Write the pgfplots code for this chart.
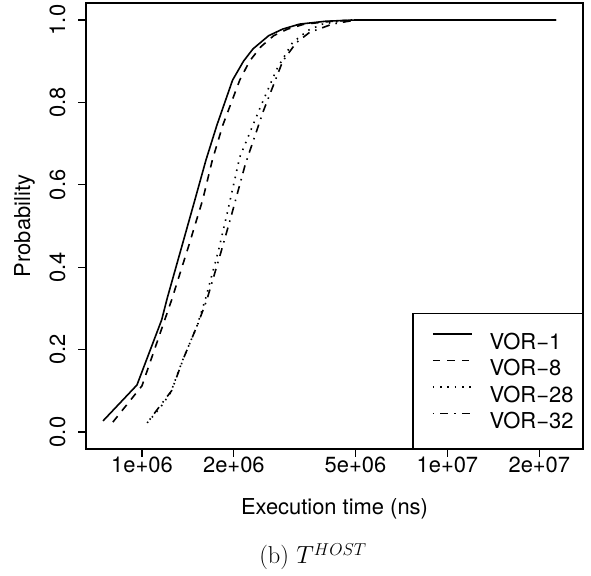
\documentclass[border=0pt]{standalone}
\usepackage{fontspec}
\usepackage{pgfplots}
\pgfplotsset{compat=1.18}
\newfontfamily\hv{TeX Gyre Heros}
\newcommand\rf{\hv\fontsize{22}{26}\selectfont}
\begin{document}
\begin{tikzpicture}[x=1bp,y=1bp]
\useasboundingbox (0,0) rectangle (591,576);
\begin{axis}[
  at={(86bp,127bp)}, anchor=south west,
  scale only axis, width=497bp, height=446bp,
  xmode=log, xmin=6.56e5, xmax=2.78e7, ymin=-0.0413, ymax=1.0413,
  xtick={1e6,2e6,5e6,1e7,2e7}, xticklabels={1e+06,2e+06,5e+06,1e+07,2e+07},
  minor xtick={},
  ytick={0,0.2,0.4,0.6,0.8,1}, yticklabels={0.0,0.2,0.4,0.6,0.8,1.0},
  tick align=outside, major tick length=8bp,
  xtick pos=bottom, ytick pos=left,
  tick style={black, line width=1.1bp},
  axis line style={line width=1.2bp},
  font=\rf,
  xticklabel style={anchor=north, inner sep=0pt},
  yticklabel style={xshift=-13bp, rotate=90, anchor=base, inner sep=0pt},
  xlabel={Execution time (ns)},
  xlabel style={at={([yshift=-66bp]axis description cs:0.5,0)}, anchor=base, inner sep=0pt},
  ylabel={Probability},
  ylabel style={at={([xshift=-56bp]axis description cs:0,0.5)}, rotate=0, anchor=base, inner sep=0pt},
  legend style={at={(1,0)}, anchor=south east, draw=black, line width=1.2bp,
    inner xsep=9bp, inner ysep=19.5bp, row sep=10.5bp, column sep=17bp,
    nodes={inner sep=0pt, text height=15.5bp, text depth=0bp, font=\rf}},
  legend cell align=left,
  legend image code/.code={\path (0bp,0bp); \draw[#1] (10bp,7.5bp) -- (49bp,7.5bp);},
  every axis plot/.append style={black, line width=1.6bp, no marks},
]
\addplot[solid] coordinates {
(7.46e5,0.027) (9.63e5,0.114) (1.16e6,0.272) (1.21e6,0.325) (1.35e6,0.45)
(1.49e6,0.563) (1.62e6,0.66) (1.76e6,0.745) (1.98e6,0.854) (2.15e6,0.9) (2.31e6,0.93)
(2.6e6,0.962) (2.89e6,0.978) (3.28e6,0.99) (4e6,0.997) (5e6,1.0) (2.27e7,1.0)};
\addlegendentry{VOR−1}
\addplot[dash pattern=on 7.5bp off 7bp] coordinates {
(8.03e5,0.024) (1.0e6,0.112) (1.25e6,0.32) (1.42e6,0.45) (1.58e6,0.563)
(1.7e6,0.66) (1.84e6,0.745) (2.09e6,0.854) (2.25e6,0.9) (2.45e6,0.935) (2.7e6,0.962)
(3.0e6,0.978) (3.4e6,0.99) (4.2e6,0.997) (5e6,1.0) (2.27e7,1.0)};
\addlegendentry{VOR−8}
\addplot[dash pattern=on 1.5bp off 5.8bp] coordinates {
(1.04e6,0.022) (1.15e6,0.06) (1.24e6,0.095) (1.36e6,0.175) (1.51e6,0.255)
(1.61e6,0.32) (1.78e6,0.44) (1.90e6,0.53) (2.09e6,0.667) (2.43e6,0.785)
(2.76e6,0.88) (3.11e6,0.945) (3.5e6,0.975) (3.9e6,0.99) (4.7e6,1.0) (2.27e7,1.0)};
\addlegendentry{VOR−28}
\addplot[dash pattern=on 1.5bp off 6bp on 8bp off 6bp] coordinates {
(1.06e6,0.03) (1.15e6,0.065) (1.25e6,0.1) (1.37e6,0.18) (1.52e6,0.26)
(1.63e6,0.32) (1.82e6,0.44) (1.97e6,0.53) (2.18e6,0.65) (2.5e6,0.78)
(2.89e6,0.9) (3.2e6,0.945) (3.54e6,0.97) (4.2e6,0.99) (5e6,1.0) (2.27e7,1.0)};
\addlegendentry{VOR−32}
\end{axis}
\node[anchor=base, font=\fontsize{24.5}{29}\selectfont] at (313,12) {(b) $T^{HOST}$};
\end{tikzpicture}
\end{document}
